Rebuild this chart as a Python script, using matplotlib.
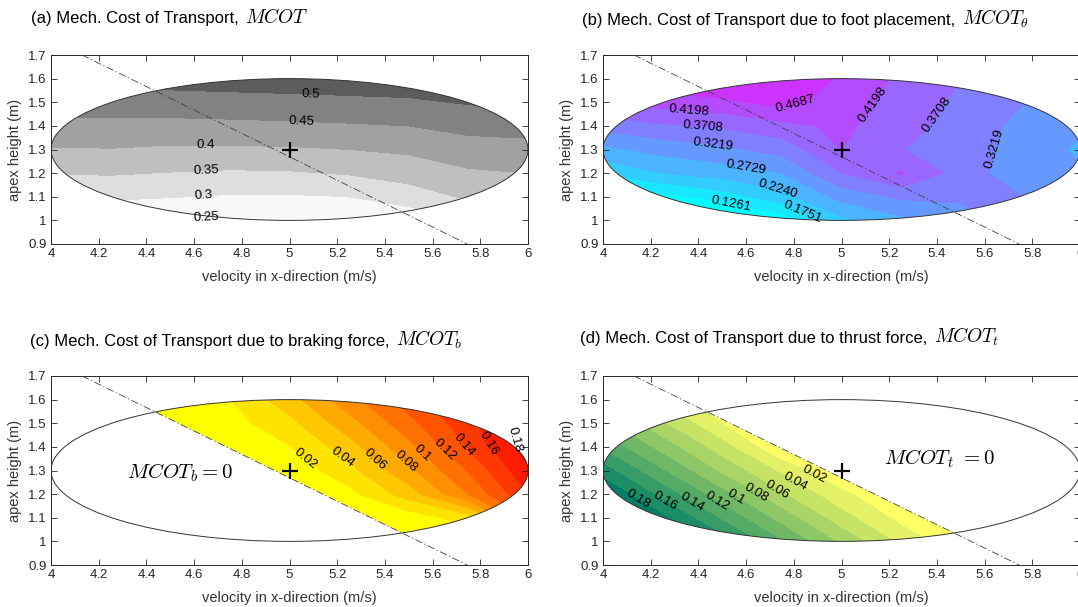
import numpy as np
import matplotlib
matplotlib.use('Agg')
import matplotlib.pyplot as plt
from matplotlib.patches import Ellipse, Polygon
from matplotlib.ticker import FuncFormatter

plt.rcParams['font.family'] = ['Liberation Sans', 'DejaVu Sans']
plt.rcParams['mathtext.fontset'] = 'cm'

# sample grid (velocity in x-direction, apex height)
vel = [4.0, 4.25, 4.5, 4.75, 5.0, 5.25, 5.5, 5.75, 6.0]
apex = [1.0, 1.1, 1.2, 1.3, 1.4, 1.5, 1.6]

# (a) MCOT, rows = apex height, cols = velocity
mcot = [
    [0.250, 0.250, 0.248, 0.242, 0.244, 0.252, 0.265, 0.300, 0.320],
    [0.305, 0.309, 0.302, 0.295, 0.295, 0.300, 0.325, 0.357, 0.370],
    [0.352, 0.354, 0.348, 0.343, 0.345, 0.354, 0.371, 0.393, 0.400],
    [0.396, 0.398, 0.392, 0.392, 0.394, 0.400, 0.408, 0.428, 0.430],
    [0.434, 0.435, 0.435, 0.438, 0.441, 0.445, 0.450, 0.465, 0.472],
    [0.475, 0.478, 0.478, 0.480, 0.484, 0.488, 0.492, 0.504, 0.511],
    [0.515, 0.515, 0.520, 0.525, 0.527, 0.530, 0.533, 0.540, 0.550],
]

# (b) MCOT_theta
mcot_theta = [
    [0.000, 0.000, 0.030, 0.100, 0.210, 0.260, 0.300, 0.340, 0.330],
    [0.090, 0.110, 0.150, 0.205, 0.290, 0.330, 0.330, 0.325, 0.310],
    [0.180, 0.224, 0.245, 0.273, 0.370, 0.425, 0.350, 0.290, 0.280],
    [0.260, 0.290, 0.310, 0.340, 0.420, 0.372, 0.350, 0.300, 0.265],
    [0.340, 0.364, 0.377, 0.405, 0.430, 0.390, 0.350, 0.310, 0.280],
    [0.420, 0.439, 0.455, 0.485, 0.445, 0.400, 0.360, 0.325, 0.300],
    [0.500, 0.510, 0.540, 0.520, 0.460, 0.410, 0.372, 0.340, 0.320],
]

# (c) MCOT_b (zero left of the dash-dot line)
mcot_b = [
    [0, 0, 0, 0, 0, 0, 0, 0.008, 0.060],
    [0, 0, 0, 0, 0, 0, 0.008, 0.030, 0.120],
    [0, 0, 0, 0, 0, 0.014, 0.050, 0.100, 0.160],
    [0, 0, 0, 0, 0.006, 0.033, 0.075, 0.121, 0.177],
    [0, 0, 0, 0.001, 0.019, 0.051, 0.094, 0.142, 0.190],
    [0, 0, 0, 0.012, 0.034, 0.072, 0.113, 0.154, 0.190],
    [0, 0, 0.008, 0.0195, 0.052, 0.092, 0.131, 0.167, 0.210],
]

# (d) MCOT_t (zero right of the dash-dot line)
mcot_t = [
    [0.260, 0.215, 0.170, 0.121, 0.075, 0.035, 0.005, 0, 0],
    [0.235, 0.185, 0.136, 0.091, 0.048, 0.0133, 0, 0, 0],
    [0.202, 0.152, 0.107, 0.062, 0.0247, 0, 0, 0, 0],
    [0.169, 0.121, 0.0749, 0.0354, 0, 0, 0, 0, 0],
    [0.135, 0.091, 0.048, 0, 0, 0, 0, 0, 0],
    [0.107, 0.062, 0.020, 0, 0, 0, 0, 0, 0],
    [0.082, 0.035, 0, 0, 0, 0, 0, 0, 0],
]

levels_a = [0.25, 0.3, 0.35, 0.4, 0.45, 0.5]
levels_b = [0.1261, 0.1751, 0.2240, 0.2729, 0.3219, 0.3708, 0.4198, 0.4687, 0.5176]
levels_cd = [0.02, 0.04, 0.06, 0.08, 0.1, 0.12, 0.14, 0.16, 0.18]

# where the contour labels sit
labels_a = [(0.5, (5.09, 1.536)), (0.45, (5.05, 1.42)), (0.4, (4.65, 1.318)),
            (0.35, (4.65, 1.21)), (0.3, (4.64, 1.113)), (0.25, (4.65, 1.02))]
labels_b = [(0.4198, (4.36, 1.465)), (0.3708, (4.42, 1.39)), (0.3219, (4.46, 1.31)),
            (0.2729, (4.6, 1.225)), (0.2240, (4.73, 1.127)), (0.1261, (4.54, 1.078)),
            (0.1751, (4.84, 1.05)), (0.4687, (4.81, 1.47)), (0.4198, (5.12, 1.5)),
            (0.3708, (5.40, 1.448)), (0.3219, (5.66, 1.295))]
labels_c = [(0.02, (5.07, 1.352)), (0.04, (5.22, 1.352)), (0.06, (5.36, 1.349)),
            (0.08, (5.49, 1.338)), (0.1, (5.556, 1.373)), (0.12, (5.65, 1.387)),
            (0.14, (5.73, 1.408)), (0.16, (5.82, 1.408)), (0.18, (5.89, 1.42))]
labels_d = [(0.02, (4.889, 1.289)), (0.04, (4.803, 1.247)), (0.06, (4.731, 1.219)),
            (0.08, (4.637, 1.198)), (0.1, (4.558, 1.191)), (0.12, (4.478, 1.167)),
            (0.14, (4.37, 1.163)), (0.16, (4.262, 1.17)), (0.18, (4.147, 1.177))]

nominal = (5.0, 1.3)
line_x = [4.13, 5.745]
line_y = [1.7, 0.9]
ell_center = (5.0, 1.3)
ell_w, ell_h = 2.0, 0.6

xticks = [4, 4.2, 4.4, 4.6, 4.8, 5, 5.2, 5.4, 5.6, 5.8, 6]
yticks = [0.9, 1, 1.1, 1.2, 1.3, 1.4, 1.5, 1.6, 1.7]

gray_a = ['1.0', '0.97', '0.87', '0.75', '0.63', '0.51', '0.36']

titles = [
    ('(a) Mech. Cost of Transport, ', r'$MCOT$', 31, 18),
    ('(b) Mech. Cost of Transport due to foot placement, ', r'$MCOT_\theta$', 582, 20),
    ('(c) Mech. Cost of Transport due to braking force, ', r'$MCOT_b$', 30, 341),
    ('(d) Mech. Cost of Transport due to thrust force, ', r'$MCOT_t$', 580, 338),
]

X, Y = np.meshgrid(vel, apex)
AXC = '0.15'


def line_at(x):
    return line_y[0] + (x - line_x[0]) * (line_y[1] - line_y[0]) / (line_x[1] - line_x[0])


def clip_region(ax, side):
    # ellipse, optionally cut by the dash-dot line
    if side is None:
        p = Ellipse(ell_center, ell_w, ell_h, facecolor='none', edgecolor='none')
    else:
        if side == 'right':
            t = np.linspace(-np.pi, np.pi, 1441)
        else:
            t = np.linspace(0, 2 * np.pi, 1441)
        ex = ell_center[0] + ell_w / 2 * np.cos(t)
        ey = ell_center[1] + ell_h / 2 * np.sin(t)
        keep = ey > line_at(ex) if side == 'right' else ey < line_at(ex)
        p = Polygon(np.column_stack([ex[keep], ey[keep]]), closed=True,
                    facecolor='none', edgecolor='none')
    ax.add_patch(p)
    return p


def panel(ax, Z, levels, colors, labels, fmt, side=None):
    Z = np.array(Z, dtype=float)
    ax.set_xlim(4, 6)
    ax.set_ylim(0.9, 1.7)
    clip = clip_region(ax, side)
    cf = ax.contourf(X, Y, Z, levels=[-1] + list(levels) + [2], colors=colors)
    cf.set_clip_path(clip)
    ax.add_patch(Ellipse(ell_center, ell_w, ell_h, fill=False, edgecolor='0.2',
                         lw=0.7, zorder=3))
    ax.plot(line_x, line_y, color='0.25', lw=0.6, ls=(0, (9, 3, 1.5, 3)), zorder=4)
    ax.plot(*nominal, marker='+', color='k', ms=12, mew=1.6, zorder=6)
    # one invisible contour per label so the label lands on its own level
    for lev, pos in labels:
        cl = ax.contour(X, Y, Z, levels=[lev], colors='none')
        ax.clabel(cl, manual=[pos], inline=False, fmt=fmt, fontsize=9.5, colors='k')

    ax.set_xticks(xticks)
    ax.set_yticks(yticks)
    ax.xaxis.set_major_formatter(FuncFormatter(lambda v, p: '%g' % v))
    ax.yaxis.set_major_formatter(FuncFormatter(lambda v, p: '%g' % v))
    ax.tick_params(direction='in', top=True, right=True, length=4, width=0.6,
                   labelsize=9.5, colors=AXC, pad=3)
    for s in ax.spines.values():
        s.set_color(AXC)
        s.set_linewidth(0.7)
    ax.set_xlabel('velocity in x-direction (m/s)', fontsize=10.5, color='0.2')
    ax.set_ylabel('apex height (m)', fontsize=10.5, color='0.2')
    ax.xaxis.set_label_coords(0.5, -0.135)
    ax.yaxis.set_label_coords(-0.061, 0.5)


fig = plt.figure(figsize=(10.78, 6.07), dpi=100)
W, H = 1078, 607
ax_a = fig.add_axes([51 / W, 1 - 244 / H, 477 / W, 189 / H])
ax_b = fig.add_axes([603 / W, 1 - 244 / H, 477 / W, 189 / H])
ax_c = fig.add_axes([51 / W, 1 - 565 / H, 477 / W, 189 / H])
ax_d = fig.add_axes([603 / W, 1 - 565 / H, 477 / W, 189 / H])

# (a) grayscale
panel(ax_a, mcot, levels_a, gray_a, labels_a, '%g')

# (b) cool colormap, colour of each band taken at its lower level
lows_b = np.array([0.0772] + levels_b)
colors_b = [plt.cm.cool(v) for v in (lows_b - 0.0772) / (0.5666 - 0.0772)]
panel(ax_b, mcot_theta, levels_b, colors_b, labels_b, '%.4f')

# (c) braking, only right of the line
colors_c = [plt.cm.autumn_r(v) for v in np.linspace(0, 1, len(levels_cd) + 1)]
panel(ax_c, mcot_b, levels_cd, colors_c, labels_c, '%g', side='right')
ax_c.text(4.54, 1.29, r'$MCOT_b = 0$', fontsize=15, ha='center', va='center')

# (d) thrust, only left of the line
colors_d = [plt.cm.summer_r(v) for v in np.linspace(0, 1, len(levels_cd) + 1)]
panel(ax_d, mcot_t, levels_cd, colors_d, labels_d, '%g', side='left')
ax_d.text(5.41, 1.35, r'$MCOT_t\ = 0$', fontsize=15, ha='center', va='center')

# titles: plain part, then the symbol a little larger right after it
renderer = fig.canvas.get_renderer()
for plain, sym, px, py in titles:
    t = fig.text(px / W, 1 - py / H, plain, fontsize=12, va='baseline')
    bb = t.get_window_extent(renderer)
    fig.text(bb.x1 / W + 2 / W, 1 - py / H, sym, fontsize=14, va='baseline')
    # shift so that the text is vertically centred on py
    t.set_y(1 - (py + 5) / H)
    fig.texts[-1].set_y(1 - (py + 5) / H)

fig.savefig('out.png', dpi=100)
